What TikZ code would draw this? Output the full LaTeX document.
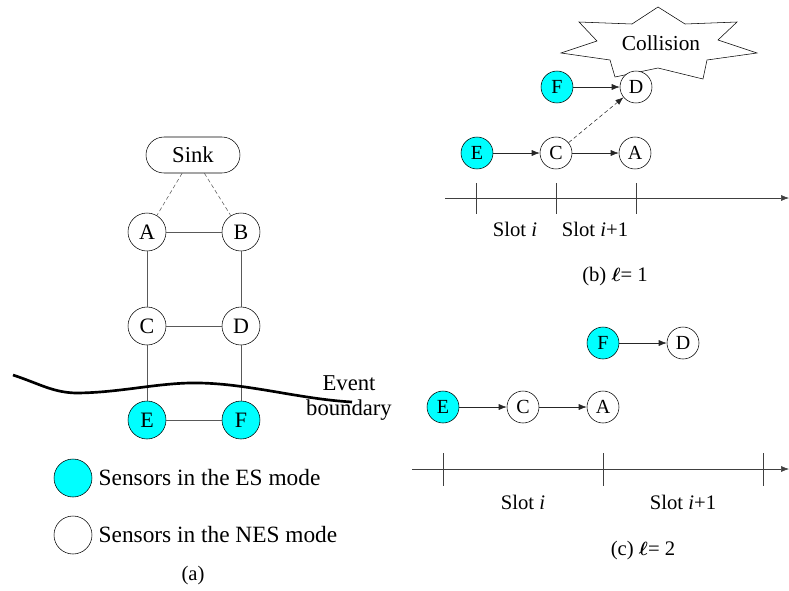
\documentclass[tikz,border=0pt]{standalone}
\usepackage{amsmath}
\usepackage{fontspec}
\setmainfont{Liberation Serif}
\usetikzlibrary{arrows.meta}
\definecolor{escyan}{RGB}{0,255,255}
\tikzset{
  sensor/.style={circle, draw, minimum size=28.5pt, inner sep=0pt, font=\fontsize{16.5}{18}\selectfont},
  essensor/.style={sensor, fill=escyan},
  slotnode/.style={circle, draw, minimum size=24pt, inner sep=0pt, font=\fontsize{15}{16}\selectfont},
  esslotnode/.style={slotnode, fill=escyan},
  link/.style={draw=black!65, semithick},
  hop/.style={->, black!85},
  caption/.style={font=\fontsize{15.5}{18}\selectfont},
}
\begin{document}
\begin{tikzpicture}[>={Latex[length=6pt,width=4.5pt]}, x=0.75pt, y=-0.75pt]
    \useasboundingbox (0,0) rectangle (789,590);
    % (a) the network
    \node[draw, rounded corners=13.5pt, minimum width=70.5pt, minimum height=27pt,
          font=\fontsize{17}{20}\selectfont] (sink) at (193,155) {Sink};
    \node[sensor] (A) at (147,232) {A};
    \node[sensor] (B) at (241,232) {B};
    \node[sensor] (C) at (147,326) {C};
    \node[sensor] (D) at (241,326) {D};
    \draw[link, densely dashed, thin] (sink) -- (A);
    \draw[link, densely dashed, thin] (sink) -- (B);
    \draw[link] (A) -- (B);
    \draw[link] (A) -- (C);
    \draw[link] (B) -- (D);
    \draw[link] (C) -- (D);
    \node[essensor] (E) at (147,420) {E};
    \node[essensor] (F) at (241,420) {F};
    \draw[link] (C) -- (E);
    \draw[link] (D) -- (F);
    \draw[link] (E) -- (F);
    \draw[line width=2pt] (13,375) .. controls (40,384) and (52,392) .. (75,393)
        .. controls (120,393) and (160,382) .. (200,383)
        .. controls (250,384) and (300,399) .. (352,402);
    \node[align=center, font=\fontsize{17}{18.5}\selectfont] (evt) at (349,398) {Event\\boundary};
    % legend
    \node[essensor] (lges) at (73,478) {};
    \node[anchor=west, font=\fontsize{17.5}{20}\selectfont] (tes) at (94,478) {Sensors in the ES mode};
    \node[sensor] (lgnes) at (73,535) {};
    \node[anchor=west, font=\fontsize{17.5}{20}\selectfont] (tnes) at (94,535) {Sensors in the NES mode};
    \node[caption] (capa) at (193,576) {(a)};
    % (b) l = 1
    \draw[fill=white] (579,22) -- (632,24) -- (658,7) -- (685,24) -- (737,22) -- (718,40)
        -- (757,53) -- (707,60) -- (703,79) -- (658,68) -- (615,77) -- (610,60)
        -- (561,53) -- (597,41) -- cycle;
    \node[font=\fontsize{16}{18}\selectfont] (coll) at (661,43) {Collision};
    \node[esslotnode] (bE) at (477,153) {E};
    \node[slotnode] (bC) at (556,153) {C};
    \node[slotnode] (bA) at (635,153) {A};
    \node[esslotnode] (bF) at (557,87) {F};
    \node[slotnode, fill=white] (bD) at (636,87) {D};
    \draw[hop] (bE) -- (bC);
    \draw[hop] (bC) -- (bA);
    \draw[hop] (bF) -- (bD);
    \draw[hop, densely dashed] (bC) -- (bD);
    \coordinate (bstart) at (445,198);
    \coordinate (bend) at (789,198);
    \draw[->, black!75] (bstart) -- (bend);
    \foreach \x in {476,556,636}
        \draw[black!75] (\x,183) -- (\x,214);
    \node[caption] (bs1) at (515,229) {Slot \textit{i}};
    \node[caption] (bs2) at (595,229) {Slot \textit{i}+1};
    \node[caption] (capb) at (615,277) {(b) $\boldsymbol{\ell}$= 1};
    % (c) l = 2
    \node[esslotnode] (cF) at (603,343) {F};
    \node[slotnode] (cD) at (683,343) {D};
    \node[esslotnode] (cE) at (443,407) {E};
    \node[slotnode] (cC) at (523,407) {C};
    \node[slotnode] (cA) at (603,407) {A};
    \draw[hop] (cF) -- (cD);
    \draw[hop] (cE) -- (cC);
    \draw[hop] (cC) -- (cA);
    \coordinate (cstart) at (412,469);
    \coordinate (cend) at (789,469);
    \draw[->, black!75] (cstart) -- (cend);
    \foreach \x in {443,603,763}
        \draw[black!75] (\x,453) -- (\x,486);
    \node[caption] (cs1) at (523,502) {Slot \textit{i}};
    \node[caption] (cs2) at (683,502) {Slot \textit{i}+1};
    \node[caption] (capc) at (643,551) {(c) $\boldsymbol{\ell}$= 2};
\end{tikzpicture}
\end{document}
